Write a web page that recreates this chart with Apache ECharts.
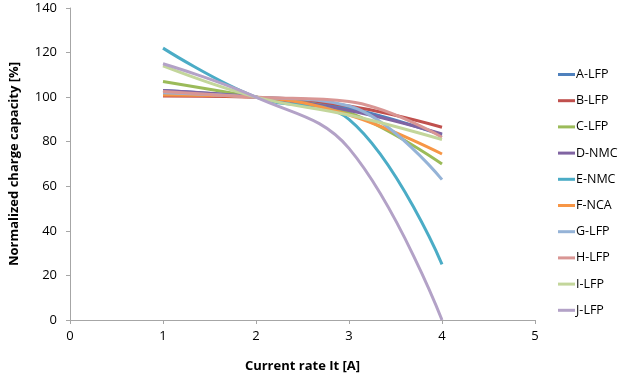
<!DOCTYPE html>
<html>
<head>
<meta charset="utf-8">
<script src="https://cdn.jsdelivr.net/npm/echarts@6/dist/echarts.min.js"></script>
<style>
  html, body { margin: 0; padding: 0; background: #fff; }
  #chart { width: 624px; height: 376px; }
</style>
</head>
<body>
<div id="chart"></div>
<script>
const rates = [1, 2, 3, 4]
const names = ['A-LFP', 'B-LFP', 'C-LFP', 'D-NMC', 'E-NMC', 'F-NCA', 'G-LFP', 'H-LFP', 'I-LFP', 'J-LFP']
const aLfp = [103, 100, 95, 83]
const bLfp = [100.5, 100, 96, 86.5]
const cLfp = [107, 100, 93, 70]
const dNmc = [103, 100, 94, 83.5]
const eNmc = [122, 100, 90, 25]
const fNca = [101, 100, 92, 74.5]
const gLfp = [102, 100, 96, 63]
const hLfp = [102.5, 100, 98, 82]
const iLfp = [114, 100, 92, 81]
const jLfp = [115, 100, 77, 0]
const colors = ['#4f81bd', '#c0504d', '#9bbb59', '#8064a2', '#4bacc6', '#f79646', '#95b3d7', '#d99694', '#c3d69b', '#b3a2c7']

const values = [aLfp, bLfp, cLfp, dNmc, eNmc, fNca, gLfp, hLfp, iLfp, jLfp]
const font = '"Open Sans", "Liberation Sans", sans-serif'

const chart = echarts.init(document.getElementById('chart'))
const option = {
  animation: false,
  color: colors,
  grid: {
    left: 70,
    right: 89,
    top: 8,
    bottom: 56,
    outerBoundsMode: 'none',
  },
  legend: {
    orient: 'vertical',
    left: 553,
    top: 63,
    itemGap: 13.2,
    icon: 'rect',
    itemWidth: 17,
    itemHeight: 3,
    textStyle: {
      fontFamily: font,
      fontSize: 12.5,
      color: '#000',
      padding: [0, 0, 0, -4],
    },
    data: names,
  },
  xAxis: {
    type: 'value',
    min: 0,
    max: 5,
    interval: 1,
    name: 'Current rate It [A]',
    nameLocation: 'middle',
    nameGap: 40,
    nameTextStyle: {
      fontFamily: font,
      fontWeight: 'bold',
      fontSize: 13,
      color: '#000',
    },
    axisLine: { lineStyle: { color: '#a6a6a6' } },
    axisTick: { show: true, length: 4, lineStyle: { color: '#a6a6a6' } },
    axisLabel: { fontFamily: font, fontSize: 13, color: '#000', margin: 10 },
    splitLine: { show: false },
  },
  yAxis: {
    type: 'value',
    min: 0,
    max: 140,
    interval: 20,
    name: 'Normalized charge capacity [%]',
    nameLocation: 'middle',
    nameGap: 49,
    nameTextStyle: {
      fontFamily: font,
      fontWeight: 'bold',
      fontSize: 13,
      color: '#000',
    },
    axisLine: { show: true, lineStyle: { color: '#a6a6a6' } },
    axisTick: { show: true, length: 4, lineStyle: { color: '#a6a6a6' } },
    axisLabel: { fontFamily: font, fontSize: 13, color: '#000', margin: 13 },
    splitLine: { show: false },
  },
  series: names.map((n, i) => ({
    name: n,
    type: 'line',
    smooth: 0.4,
    symbol: 'none',
    lineStyle: { width: 3 },
    data: rates.map((x, j) => [x, values[i][j]]),
  })),
}
chart.setOption(option)
</script>
</body>
</html>
